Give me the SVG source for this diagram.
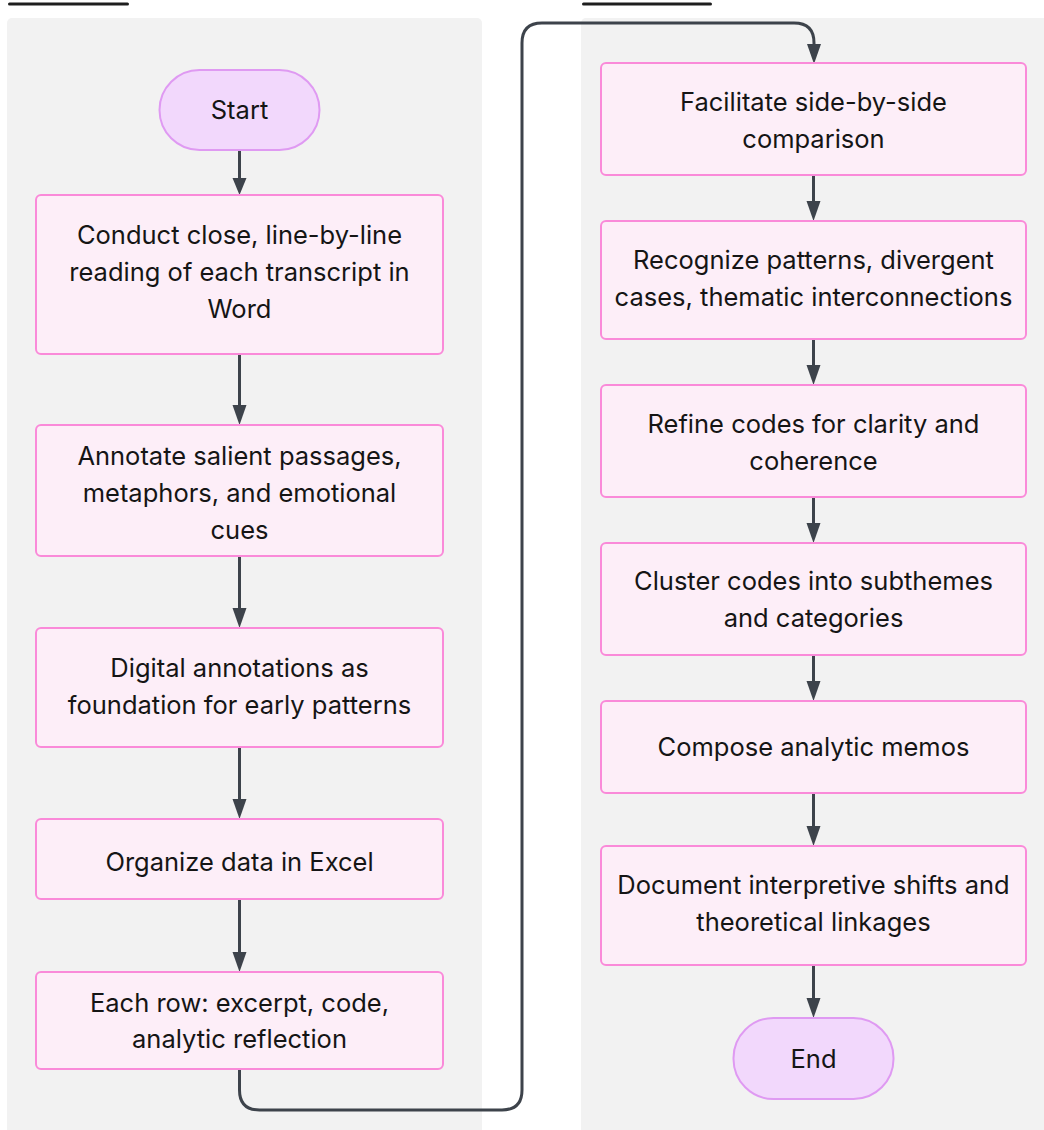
<svg xmlns="http://www.w3.org/2000/svg" width="1044" height="1130" viewBox="0 0 1044 1130">
  <style>
    .cluster { fill: #f2f2f2; }
    .step { fill: #fdeef8; stroke: #fa8ad9; stroke-width: 2; }
    .term { fill: #f2d8fc; stroke: #df9af2; stroke-width: 2; }
    .label { font-family: Inter, "Noto Sans", "Liberation Sans", sans-serif; font-size: 25.5px; fill: #151515; text-anchor: middle; }
    .edge { fill: none; stroke: #3d434b; stroke-width: 3; }
    .head { fill: #3d434b; }
    .tab { fill: #1e1e1e; }
  </style>

  <!-- white canvas -->
  <rect x="0" y="0" width="1044" height="1130" fill="#ffffff"/>

  <!-- subgraph title strips, clipped at the top edge -->
  <rect class="tab" x="8" y="2.5" width="121" height="3" rx="1.5"/>
  <rect class="tab" x="582" y="2.5" width="130" height="3" rx="1.5"/>

  <!-- subgraph backgrounds -->
  <g id="cluster-left">
    <rect class="cluster" x="7" y="18" width="475" height="1130" rx="5"/>
  </g>
  <g id="cluster-right">
    <rect class="cluster" x="581" y="18" width="480" height="1130" rx="5"/>
  </g>

  <!-- connectors -->
  <g id="edges">
    <path class="edge" d="M239.5 150 L239.5 181"/>
    <path class="head" d="M232.5 178 L246.5 178 L239.5 195 Z"/>
    <path class="edge" d="M239.5 354 L239.5 410"/>
    <path class="head" d="M232.5 405 L246.5 405 L239.5 425 Z"/>
    <path class="edge" d="M239.5 556 L239.5 612"/>
    <path class="head" d="M232.5 608 L246.5 608 L239.5 628 Z"/>
    <path class="edge" d="M239.5 747 L239.5 803"/>
    <path class="head" d="M232.5 799 L246.5 799 L239.5 819 Z"/>
    <path class="edge" d="M239.5 899 L239.5 956"/>
    <path class="head" d="M232.5 952 L246.5 952 L239.5 972 Z"/>

    <!-- hand-off from the first column to the second -->
    <path class="edge" d="M239.5 1069 L239.5 1090 Q239.5 1110 259.5 1110 L502 1110 Q522 1110 522 1090 L522 43 Q522 23 542 23 L794 23 Q814 23 814 43 L814 48"/>
    <path class="head" d="M807 44 L821 44 L814 64 Z"/>

    <path class="edge" d="M813.5 175 L813.5 205"/>
    <path class="head" d="M806.5 201 L820.5 201 L813.5 221 Z"/>
    <path class="edge" d="M813.5 339 L813.5 369"/>
    <path class="head" d="M806.5 365 L820.5 365 L813.5 385 Z"/>
    <path class="edge" d="M813.5 497 L813.5 527"/>
    <path class="head" d="M806.5 523 L820.5 523 L813.5 543 Z"/>
    <path class="edge" d="M813.5 655 L813.5 685"/>
    <path class="head" d="M806.5 681 L820.5 681 L813.5 701 Z"/>
    <path class="edge" d="M813.5 793 L813.5 830"/>
    <path class="head" d="M806.5 826 L820.5 826 L813.5 846 Z"/>
    <path class="edge" d="M813.5 965 L813.5 1002"/>
    <path class="head" d="M806.5 998 L820.5 998 L813.5 1018 Z"/>
  </g>

  <!-- first column -->
  <g id="start">
    <rect class="term" x="159.5" y="70" width="160" height="80" rx="40"/>
    <text class="label" x="239.5" y="119">Start</text>
  </g>
  <g id="conduct">
    <rect class="step" x="36" y="195" width="407" height="159" rx="5"/>
    <text class="label" x="239.5" y="244">Conduct close, line-by-line</text>
    <text class="label" x="239.5" y="281">reading of each transcript in</text>
    <text class="label" x="239.5" y="318">Word</text>
  </g>
  <g id="annotate">
    <rect class="step" x="36" y="425" width="407" height="131" rx="5"/>
    <text class="label" x="239.5" y="465">Annotate salient passages,</text>
    <text class="label" x="239.5" y="502">metaphors, and emotional</text>
    <text class="label" x="239.5" y="539">cues</text>
  </g>
  <g id="digital">
    <rect class="step" x="36" y="628" width="407" height="119" rx="5"/>
    <text class="label" x="239.5" y="677">Digital annotations as</text>
    <text class="label" x="239.5" y="714">foundation for early patterns</text>
  </g>
  <g id="organize">
    <rect class="step" x="36" y="819" width="407" height="80" rx="5"/>
    <text class="label" x="239.5" y="871">Organize data in Excel</text>
  </g>
  <g id="each-row">
    <rect class="step" x="36" y="972" width="407" height="97" rx="5"/>
    <text class="label" x="239.5" y="1012">Each row: excerpt, code,</text>
    <text class="label" x="239.5" y="1048">analytic reflection</text>
  </g>

  <!-- second column -->
  <g id="facilitate">
    <rect class="step" x="601" y="63" width="425" height="112" rx="5"/>
    <text class="label" x="813.5" y="111">Facilitate side-by-side</text>
    <text class="label" x="813.5" y="148">comparison</text>
  </g>
  <g id="recognize">
    <rect class="step" x="601" y="221" width="425" height="118" rx="5"/>
    <text class="label" x="813.5" y="269">Recognize patterns, divergent</text>
    <text class="label" x="813.5" y="306">cases, thematic interconnections</text>
  </g>
  <g id="refine">
    <rect class="step" x="601" y="385" width="425" height="112" rx="5"/>
    <text class="label" x="813.5" y="433">Refine codes for clarity and</text>
    <text class="label" x="813.5" y="470">coherence</text>
  </g>
  <g id="cluster-codes">
    <rect class="step" x="601" y="543" width="425" height="112" rx="5"/>
    <text class="label" x="813.5" y="590">Cluster codes into subthemes</text>
    <text class="label" x="813.5" y="627">and categories</text>
  </g>
  <g id="compose">
    <rect class="step" x="601" y="701" width="425" height="92" rx="5"/>
    <text class="label" x="813.5" y="756">Compose analytic memos</text>
  </g>
  <g id="document">
    <rect class="step" x="601" y="846" width="425" height="119" rx="5"/>
    <text class="label" x="813.5" y="894">Document interpretive shifts and</text>
    <text class="label" x="813.5" y="931">theoretical linkages</text>
  </g>
  <g id="end">
    <rect class="term" x="733.5" y="1018" width="160" height="81" rx="40"/>
    <text class="label" x="813.5" y="1068">End</text>
  </g>
</svg>
